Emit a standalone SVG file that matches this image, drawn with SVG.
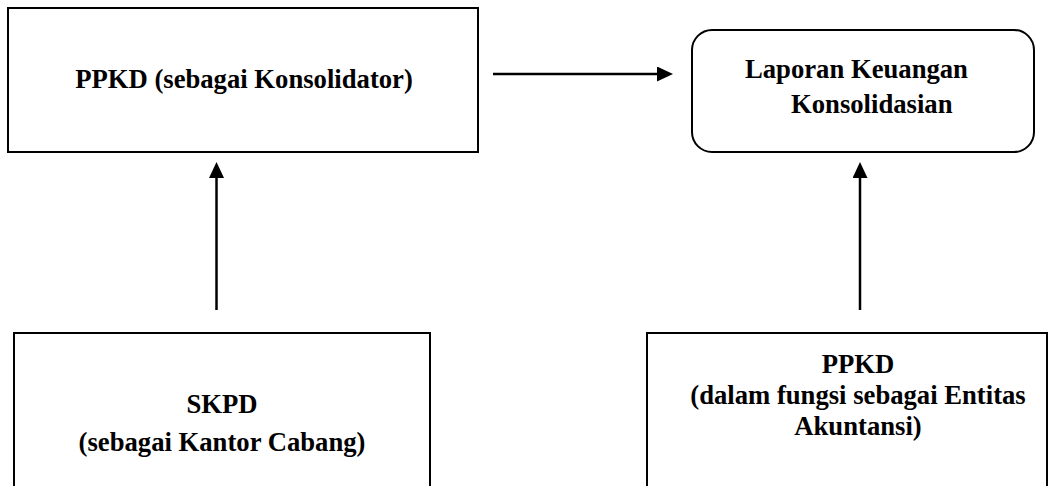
<svg xmlns="http://www.w3.org/2000/svg" width="1056" height="486" viewBox="0 0 1056 486">
  <defs>
    <marker id="arrow" markerUnits="userSpaceOnUse" markerWidth="17" markerHeight="16" refX="0" refY="7.5" orient="auto">
      <path d="M0,0 L16,7.5 L0,15 z" fill="#000"/>
    </marker>
    <style>
      .box { fill: #fff; stroke: #000; stroke-width: 2; }
      .lbl { font-family: "Liberation Serif", "Times New Roman", serif; font-weight: bold; font-size: 26.67px; fill: #000; }
      .mid { text-anchor: middle; }
      .conn { stroke: #000; stroke-width: 2.5; fill: none; marker-end: url(#arrow); }
    </style>
  </defs>
  <rect width="1056" height="486" fill="#fff"/>

  <g id="node-ppkd-konsolidator">
    <rect class="box" x="8" y="8" width="470" height="144"/>
    <text class="lbl mid" x="244" y="88">PPKD (sebagai Konsolidator)</text>
  </g>

  <g id="node-laporan">
    <rect class="box" x="692" y="30" width="342" height="122" rx="20" ry="20"/>
    <text class="lbl" x="745" y="78">Laporan Keuangan</text>
    <text class="lbl" x="791" y="113">Konsolidasian</text>
  </g>

  <g id="node-skpd">
    <rect class="box" x="14" y="333" width="416" height="170"/>
    <text class="lbl mid" x="222" y="413">SKPD</text>
    <text class="lbl mid" x="222" y="451">(sebagai Kantor Cabang)</text>
  </g>

  <g id="node-ppkd-entitas">
    <rect class="box" x="647" y="333" width="400" height="170"/>
    <text class="lbl mid" x="858" y="373">PPKD</text>
    <text class="lbl mid" x="858" y="404">(dalam fungsi sebagai Entitas</text>
    <text class="lbl mid" x="858" y="435">Akuntansi)</text>
  </g>

  <g id="connectors">
    <line class="conn" x1="493" y1="74" x2="657" y2="74"/>
    <line class="conn" x1="216.5" y1="310" x2="216.5" y2="178"/>
    <line class="conn" x1="860" y1="310" x2="860" y2="178"/>
  </g>
</svg>
